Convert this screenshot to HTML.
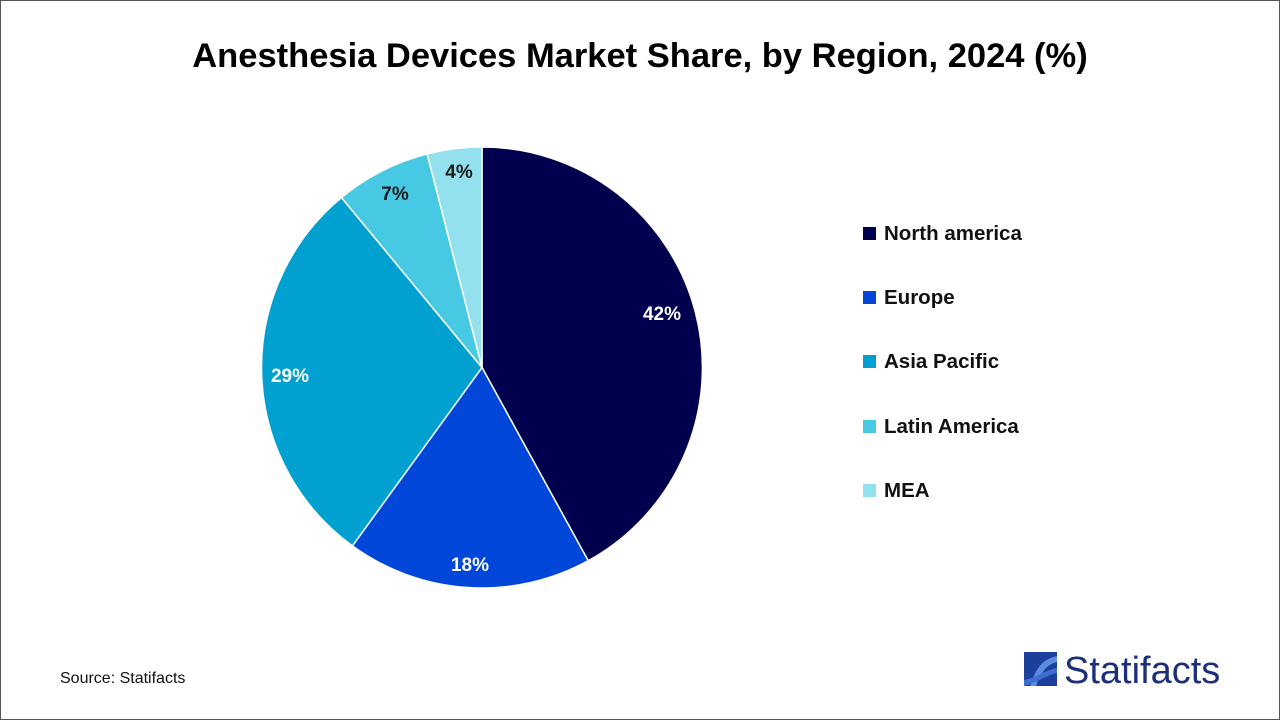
<!DOCTYPE html>
<html><head><meta charset="utf-8"><style>
body{margin:0;width:1280px;height:720px;background:#fff;font-family:"Liberation Sans",sans-serif;overflow:hidden}
.frame{position:absolute;left:0;top:0;width:1278px;height:718px;border:1px solid #555}
</style></head><body><div class="frame"></div>
<svg width="1280" height="720" style="position:absolute;left:0;top:0">
<text x="640" y="67" text-anchor="middle" font-size="34.5" font-weight="bold" fill="#000" font-family="Liberation Sans, sans-serif">Anesthesia Devices Market Share, by Region, 2024 (%)</text>
<g stroke="#fff" stroke-width="1.5">
<path d="M482,367.5 L482,147 A220.5,220.5 0 0 1 588.2,560.7 Z" fill="#00004f"/>
<path d="M482,367.5 L588.2,560.7 A220.5,220.5 0 0 1 352.4,545.9 Z" fill="#0047d9"/>
<path d="M482,367.5 L352.4,545.9 A220.5,220.5 0 0 1 341.5,197.6 Z" fill="#00a0d0"/>
<path d="M482,367.5 L341.5,197.6 A220.5,220.5 0 0 1 427.2,153.9 Z" fill="#47c9e3"/>
<path d="M482,367.5 L427.2,153.9 A220.5,220.5 0 0 1 482,147 Z" fill="#93e0ef"/>
</g>
<g font-size="19" font-weight="bold" text-anchor="middle" font-family="Liberation Sans, sans-serif">
<text x="662" y="320" fill="#fff">42%</text>
<text x="470" y="571" fill="#fff">18%</text>
<text x="290" y="382" fill="#fff">29%</text>
<text x="395" y="200" fill="#1a1a1a">7%</text>
<text x="459" y="178" fill="#1a1a1a">4%</text>
</g>
<g font-size="20.5" font-weight="bold" fill="#111" font-family="Liberation Sans, sans-serif">
<rect x="863" y="227" width="13" height="13" fill="#00004f"/><text x="884" y="240">North america</text>
<rect x="863" y="291" width="13" height="13" fill="#0047d9"/><text x="884" y="304">Europe</text>
<rect x="863" y="355" width="13" height="13" fill="#00a0d0"/><text x="884" y="368">Asia Pacific</text>
<rect x="863" y="420" width="13" height="13" fill="#47c9e3"/><text x="884" y="433">Latin America</text>
<rect x="863" y="484" width="13" height="13" fill="#93e0ef"/><text x="884" y="497">MEA</text>
</g>
<text x="60" y="683" font-size="16" fill="#111">Source: Statifacts</text>
<rect x="1024" y="652" width="33" height="34" fill="#1d3f9c"/>
<path d="M1030,686 C1036,670 1040,660 1057,656 L1057,662 C1045,665 1040,675 1036,686 Z" fill="#5b8de0"/>
<path d="M1024,680 C1036,678 1045,670 1057,668 L1057,673 C1045,676 1036,683 1024,686 Z" fill="#3d6fd0"/>
<text x="1064" y="683" font-size="38" fill="#1d2f7a" font-family="Liberation Sans, sans-serif">Statifacts</text>
</svg>
</body></html>
